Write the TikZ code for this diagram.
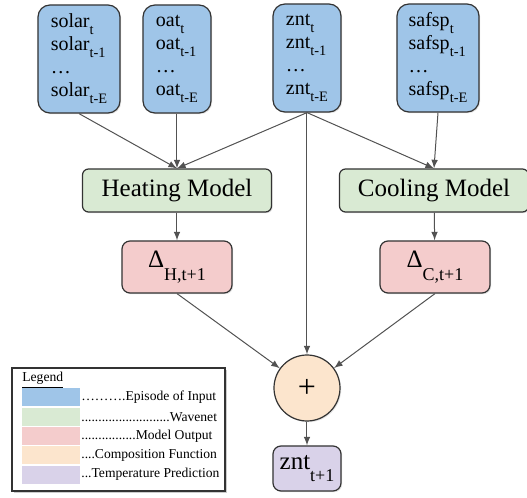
\documentclass[tikz,border=0pt]{standalone}
\usepackage{fontspec}
\setmainfont{Liberation Serif}
\usetikzlibrary{shadows}
\definecolor{inblue}{HTML}{9FC5E8}
\definecolor{wavegreen}{HTML}{D9EAD3}
\definecolor{outred}{HTML}{F4CCCC}
\definecolor{comporange}{HTML}{FCE5CD}
\definecolor{predpurple}{HTML}{D9D2E9}
\definecolor{edge}{HTML}{333333}
\newcommand{\lowsub}[2][.35em]{\raisebox{-#1}{\scalebox{.72}{#2}}}
\tikzset{
  softshadow/.style = {drop shadow={fill=black!22,shadow xshift=.6pt,shadow yshift=-.6pt}},
  episode/.style = {draw=edge, fill=inblue, rounded corners=6pt, line width=.6pt,
    align=left, inner sep=0pt, minimum height=54pt,
    font=\fontsize{10}{11.5}\selectfont, softshadow},
  wavenet/.style = {draw=edge, fill=wavegreen, rounded corners=3pt, line width=.6pt,
    minimum width=94.5pt, minimum height=21.5pt, font=\fontsize{12.5}{14}\selectfont, softshadow},
  modelout/.style = {draw=edge, fill=outred, rounded corners=4pt, line width=.6pt,
    minimum width=55pt, minimum height=26pt, font=\fontsize{12.5}{14}\selectfont, softshadow},
  compose/.style = {draw=edge, fill=comporange, circle, line width=.6pt,
    minimum size=33pt, inner sep=0pt, font=\fontsize{16}{18}\selectfont, softshadow},
  predict/.style = {draw=edge, fill=predpurple, rounded corners=4pt, line width=.6pt,
    minimum width=34pt, minimum height=22.5pt, inner sep=0pt,
    font=\fontsize{12.5}{14}\selectfont, softshadow},
  link/.style = {->, draw=edge!85, line width=.5pt},
  swatch/.style = {fill=#1, minimum width=29pt, minimum height=9pt, inner sep=0pt},
  legendtext/.style = {anchor=west, inner sep=0pt, font=\fontsize{6.8}{8}\selectfont}
}
\tikzset{>=latex}

\begin{document}
\begin{tikzpicture}[x=.5pt,y=-.5pt]
  \useasboundingbox (0,0) rectangle (527,498);
  % episodes of input
  \node[episode, minimum width=41pt] (solar) at (79,59)
    {solar\lowsub{t}\\solar\lowsub{t-1}\\\dots\\solar\lowsub{t-E}};
  \node[episode, minimum width=34pt] (oat) at (177,59)
    {oat\lowsub{t}\\oat\lowsub{t-1}\\\dots\\oat\lowsub{t-E}};
  \node[episode, minimum width=34pt] (znt) at (307,58)
    {znt\lowsub{t}\\znt\lowsub{t-1}\\\dots\\znt\lowsub{t-E}};
  \node[episode, minimum width=41pt] (safsp) at (438,58)
    {safsp\lowsub{t}\\safsp\lowsub{t-1}\\\dots\\safsp\lowsub{t-E}};
  % wavenets
  \node[wavenet] (heat) at (177,190.5) {Heating Model};
  \node[wavenet] (cool) at (434,190.5) {Cooling Model};
  % model outputs
  \node[modelout] (dh) at (177,267) {Δ\lowsub[.5em]{H,t+1}};
  \node[modelout] (dc) at (435,267) {Δ\lowsub[.5em]{C,t+1}};
  % composition and prediction
  \node[compose] (plus) at (307,388) {+};
  \node[predict] (next) at (307,468.5) {znt\lowsub[.45em]{t+1}};
  % connectors
  \draw[link] (solar.south) -- (heat.north);
  \draw[link] (oat.south) -- (heat.north);
  \draw[link] (znt.south) -- (heat.north);
  \draw[link] (znt.south) -- (cool.north);
  \draw[link] (safsp.south) -- (cool.north);
  \draw[link] (znt.south) -- (plus.north);
  \draw[link] (heat) -- (dh);
  \draw[link] (cool) -- (dc);
  \draw[link] (dh.south) -- (plus);
  \draw[link] (dc.south) -- (plus);
  \draw[link] (plus) -- (next);
  % legend
  \draw[draw=edge, fill=white, line width=.6pt,
    drop shadow={fill=black!40,shadow xshift=1.2pt,shadow yshift=-1.2pt}]
    (12,368) rectangle (225,491);
  \node[legendtext] (legtitle) at (22,380) {\underline{Legend}};
  \foreach \col/\txt [count=\i] in {
      inblue/{……….Episode of Input},
      wavegreen/{..........................Wavenet},
      outred/{................Model Output},
      comporange/{....Composition Function},
      predpurple/{...Temperature Prediction}} {
    \node[swatch=\col] (sw\i) at (51,397.5+19.3*\i-19.3) {};
    \node[legendtext] (lt\i) at (81,397.5+19.3*\i-19.3) {\txt};
  }
\end{tikzpicture}
\end{document}
